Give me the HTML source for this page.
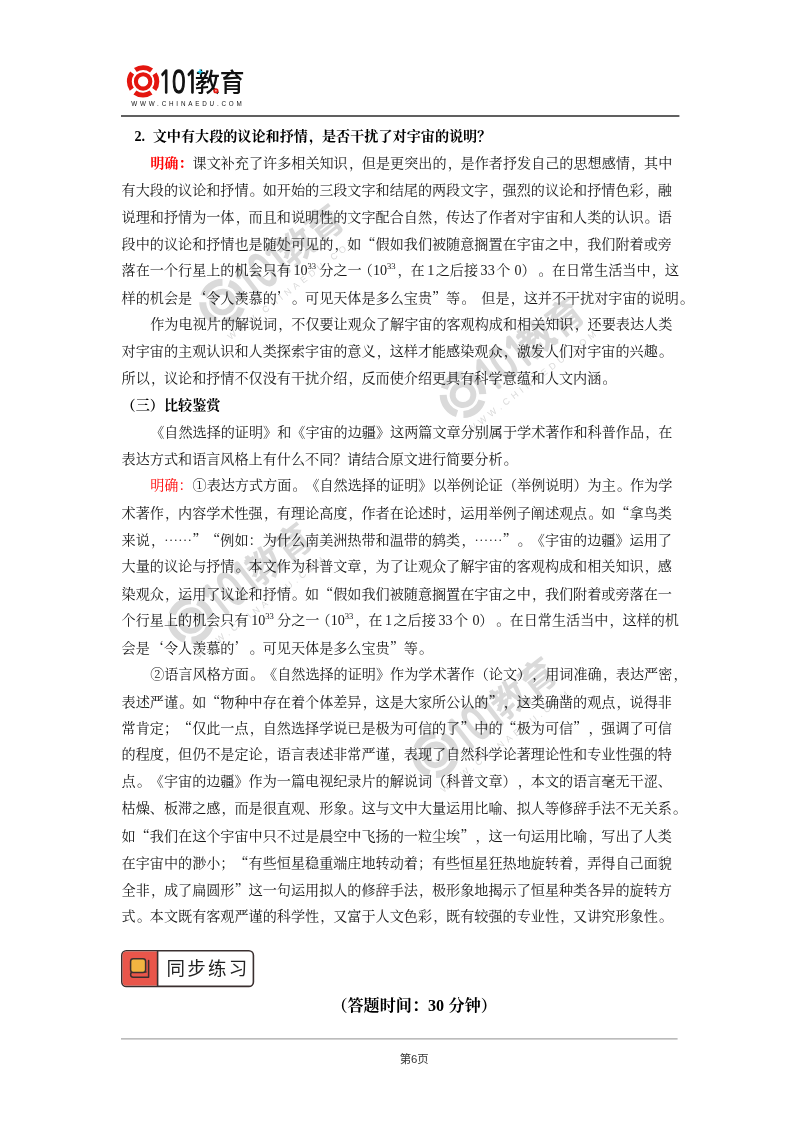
<!DOCTYPE html>
<html lang="zh-CN"><head><meta charset="utf-8"><title>第6页</title>
<style>
html,body{margin:0;padding:0;background:#fff;}
body{width:800px;height:1132px;position:relative;overflow:hidden;font-family:"Liberation Serif","Noto Serif CJK SC",serif;color:#161616;}
.l{position:absolute;white-space:nowrap;height:27px;line-height:27px;font-size:14.12px;font-weight:400;text-spacing-trim:space-all;font-kerning:none;}
.l i{font-style:normal;position:relative;left:1.2px;}
.q{font-family:"Noto Serif CJK SC",serif;}
.h{font-weight:700;color:#000;}
.num{display:inline-block;width:18.2px;}
.r{color:#f00;}
b.r{font-weight:700;}
.en{font-family:"Liberation Serif",serif;}
.sup{font-size:8.6px;position:relative;top:-6.3px;line-height:0;}
.sp{display:inline-block;width:7px;}
.wm{position:absolute;left:0;top:0;width:800px;height:1132px;}
.hr{position:absolute;background:#222;}
</style></head><body>
<div id="pg" style="position:absolute;left:0;top:0;width:800px;height:1132px;will-change:transform;">

<svg class="wm" width="800" height="1132" viewBox="0 0 800 1132">
<g transform="translate(222.5 302) rotate(-37.7) scale(1.44) translate(-16.3 -16.3)" opacity="1">
<circle cx="16.3" cy="16.3" r="13.75" fill="none" stroke="#dadada" stroke-width="4.9" stroke-dasharray="17.2 4.4" stroke-dashoffset="8.6"/>
<circle cx="16.3" cy="16.3" r="7.2" fill="none" stroke="#dadada" stroke-width="4.1"/>
<g transform="translate(31.8 27.4) scale(1 1.36)"><text x="0" y="0" font-family="NanumGothic, IPAPGothic, sans-serif" font-size="23" fill="#dadada" stroke="#dadada" stroke-width="1.7" stroke-linejoin="round" letter-spacing="-0.9">101</text></g>
<text x="68.2" y="26.5" font-family="Liberation Sans, Noto Sans CJK SC, sans-serif" font-weight="700" font-size="25.8" fill="#dadada" textLength="49.6" lengthAdjust="spacingAndGlyphs">教育</text>
<path d="M73.3 4.25 v5 M70.8 6.75 h5" stroke="#dadada" stroke-width="1.5" fill="none"/>
<circle cx="89.1" cy="25.65" r="1.75" fill="#dadada" stroke="#dadada" stroke-width="1.7"/>
<text x="4.45" y="40.65" font-family="Liberation Sans, sans-serif" font-size="6.3" font-weight="400" fill="#dadada" textLength="110.5" lengthAdjust="spacing">WWW.CHINAEDU.COM</text>
</g>
<g transform="translate(463 394.7) rotate(-37.7) scale(1.44) translate(-16.3 -16.3)" opacity="1">
<circle cx="16.3" cy="16.3" r="13.75" fill="none" stroke="#dadada" stroke-width="4.9" stroke-dasharray="17.2 4.4" stroke-dashoffset="8.6"/>
<circle cx="16.3" cy="16.3" r="7.2" fill="none" stroke="#dadada" stroke-width="4.1"/>
<g transform="translate(31.8 27.4) scale(1 1.36)"><text x="0" y="0" font-family="NanumGothic, IPAPGothic, sans-serif" font-size="23" fill="#dadada" stroke="#dadada" stroke-width="1.7" stroke-linejoin="round" letter-spacing="-0.9">101</text></g>
<text x="68.2" y="26.5" font-family="Liberation Sans, Noto Sans CJK SC, sans-serif" font-weight="700" font-size="25.8" fill="#dadada" textLength="49.6" lengthAdjust="spacingAndGlyphs">教育</text>
<path d="M73.3 4.25 v5 M70.8 6.75 h5" stroke="#dadada" stroke-width="1.5" fill="none"/>
<circle cx="89.1" cy="25.65" r="1.75" fill="#dadada" stroke="#dadada" stroke-width="1.7"/>
<text x="4.45" y="40.65" font-family="Liberation Sans, sans-serif" font-size="6.3" font-weight="400" fill="#dadada" textLength="110.5" lengthAdjust="spacing">WWW.CHINAEDU.COM</text>
</g>
<g transform="translate(191 620.5) rotate(-37.7) scale(1.44) translate(-16.3 -16.3)" opacity="1">
<circle cx="16.3" cy="16.3" r="13.75" fill="none" stroke="#dadada" stroke-width="4.9" stroke-dasharray="17.2 4.4" stroke-dashoffset="8.6"/>
<circle cx="16.3" cy="16.3" r="7.2" fill="none" stroke="#dadada" stroke-width="4.1"/>
<g transform="translate(31.8 27.4) scale(1 1.36)"><text x="0" y="0" font-family="NanumGothic, IPAPGothic, sans-serif" font-size="23" fill="#dadada" stroke="#dadada" stroke-width="1.7" stroke-linejoin="round" letter-spacing="-0.9">101</text></g>
<text x="68.2" y="26.5" font-family="Liberation Sans, Noto Sans CJK SC, sans-serif" font-weight="700" font-size="25.8" fill="#dadada" textLength="49.6" lengthAdjust="spacingAndGlyphs">教育</text>
<path d="M73.3 4.25 v5 M70.8 6.75 h5" stroke="#dadada" stroke-width="1.5" fill="none"/>
<circle cx="89.1" cy="25.65" r="1.75" fill="#dadada" stroke="#dadada" stroke-width="1.7"/>
<text x="4.45" y="40.65" font-family="Liberation Sans, sans-serif" font-size="6.3" font-weight="400" fill="#dadada" textLength="110.5" lengthAdjust="spacing">WWW.CHINAEDU.COM</text>
</g>
<g transform="translate(435.5 754.8) rotate(-37.7) scale(1.44) translate(-16.3 -16.3)" opacity="1">
<circle cx="16.3" cy="16.3" r="13.75" fill="none" stroke="#dadada" stroke-width="4.9" stroke-dasharray="17.2 4.4" stroke-dashoffset="8.6"/>
<circle cx="16.3" cy="16.3" r="7.2" fill="none" stroke="#dadada" stroke-width="4.1"/>
<g transform="translate(31.8 27.4) scale(1 1.36)"><text x="0" y="0" font-family="NanumGothic, IPAPGothic, sans-serif" font-size="23" fill="#dadada" stroke="#dadada" stroke-width="1.7" stroke-linejoin="round" letter-spacing="-0.9">101</text></g>
<text x="68.2" y="26.5" font-family="Liberation Sans, Noto Sans CJK SC, sans-serif" font-weight="700" font-size="25.8" fill="#dadada" textLength="49.6" lengthAdjust="spacingAndGlyphs">教育</text>
<path d="M73.3 4.25 v5 M70.8 6.75 h5" stroke="#dadada" stroke-width="1.5" fill="none"/>
<circle cx="89.1" cy="25.65" r="1.75" fill="#dadada" stroke="#dadada" stroke-width="1.7"/>
<text x="4.45" y="40.65" font-family="Liberation Sans, sans-serif" font-size="6.3" font-weight="400" fill="#dadada" textLength="110.5" lengthAdjust="spacing">WWW.CHINAEDU.COM</text>
</g>
<g transform="translate(126.8 65.1)">
<circle cx="16.3" cy="16.3" r="13.75" fill="none" stroke="#e4160f" stroke-width="4.9" stroke-dasharray="17.2 4.4" stroke-dashoffset="8.6"/>
<circle cx="16.3" cy="16.3" r="7.2" fill="none" stroke="#e4160f" stroke-width="4.1"/>
<g transform="translate(31.8 27.4) scale(1 1.36)"><text x="0" y="0" font-family="NanumGothic, IPAPGothic, sans-serif" font-size="23" fill="#111" stroke="#111" stroke-width="1.0" stroke-linejoin="round" letter-spacing="-0.9">101</text></g>
<text x="68.2" y="26.5" font-family="Liberation Sans, Noto Sans CJK SC, sans-serif" font-weight="500" font-size="25.8" fill="#111" textLength="49.6" lengthAdjust="spacingAndGlyphs">教育</text>
<path d="M73.3 4.25 v5 M70.8 6.75 h5" stroke="#2ad0ee" stroke-width="1.5" fill="none"/>
<circle cx="89.1" cy="25.65" r="1.75" fill="#f7b5b0" stroke="#e4160f" stroke-width="1.7"/>
<text x="4.45" y="40.65" font-family="Liberation Sans, sans-serif" font-size="6.3" font-weight="400" fill="#111" textLength="110.5" lengthAdjust="spacing">WWW.CHINAEDU.COM</text>
</g>
</svg>
<svg style="position:absolute;left:0;top:110px" width="800" height="12" viewBox="0 110 800 12"><line x1="121" y1="116" x2="679.4" y2="116" stroke="#2b2b2b" stroke-width="1.7"/></svg>
<div class="l h" style="left:134.50px;top:123.41px;"><span class="num">2.</span>文中有大段的议论和抒情<i>，</i>是否干扰了对宇宙的说明？</div>
<div class="l " style="left:150.20px;top:149.80px;"><b class="r">明确：</b>课文补充了许多相关知识<i>，</i>但是更突出的<i>，</i>是作者抒发自己的思想感情<i>，</i>其中</div>
<div class="l " style="left:121.60px;top:176.69px;">有大段的议论和抒情<i>。</i>如开始的三段文字和结尾的两段文字<i>，</i>强烈的议论和抒情色彩<i>，</i>融</div>
<div class="l " style="left:121.60px;top:203.58px;">说理和抒情为一体<i>，</i>而且和说明性的文字配合自然<i>，</i>传达了作者对宇宙和人类的认识<i>。</i>语</div>
<div class="l " style="left:121.60px;top:230.47px;">段中的议论和抒情也是随处可见的<i>，</i>如<span class="q">“</span>假如我们被随意搁置在宇宙之中<i>，</i>我们附着或旁</div>
<div class="l" style="left:121.60px;top:257.36px;">落在一个行星上的机会只有</div>
<div class="l" style="left:293.40px;top:257.36px;"><span class="en">10<span class="sup">33</span></span></div>
<div class="l" style="left:319.30px;top:257.36px;">分之一</div>
<div class="l" style="left:358.66px;top:257.36px;">（</div>
<div class="l" style="left:372.90px;top:257.36px;"><span class="en">10<span class="sup">33</span></span></div>
<div class="l" style="left:396.30px;top:257.36px;"><i>，</i>在</div>
<div class="l" style="left:427.20px;top:257.36px;"><span class="en">1</span></div>
<div class="l" style="left:435.70px;top:257.36px;">之后接</div>
<div class="l" style="left:480.60px;top:257.36px;"><span class="en">33</span></div>
<div class="l" style="left:496.30px;top:257.36px;">个</div>
<div class="l" style="left:514.60px;top:257.36px;"><span class="en">0</span></div>
<div class="l" style="left:521.50px;top:257.36px;">）</div>
<div class="l" style="left:537.20px;top:257.36px;"><i>。</i></div>
<div class="l" style="left:551.80px;top:257.36px;">在日常生活当中<i>，</i>这</div>
<div class="l " style="left:121.60px;top:284.25px;">样的机会是<span class="q">‘</span>令人羡慕的<span class="q">’</span><i>。</i>可见天体是多么宝贵<span class="q">”</span>等<i>。</i><span class="sp"></span>但是<i>，</i>这并不干扰对宇宙的说明<i>。</i></div>
<div class="l " style="left:150.20px;top:311.14px;">作为电视片的解说词<i>，</i>不仅要让观众了解宇宙的客观构成和相关知识<i>，</i>还要表达人类</div>
<div class="l " style="left:121.60px;top:338.03px;">对宇宙的主观认识和人类探索宇宙的意义<i>，</i>这样才能感染观众<i>，</i>激发人们对宇宙的兴趣<i>。</i></div>
<div class="l " style="left:121.60px;top:364.92px;">所以<i>，</i>议论和抒情不仅没有干扰介绍<i>，</i>反而使介绍更具有科学意蕴和人文内涵<i>。</i></div>
<div class="l h" style="left:121.60px;top:392.31px;">（三）比较鉴赏</div>
<div class="l " style="left:150.20px;top:418.70px;">《自然选择的证明》和《宇宙的边疆》这两篇文章分别属于学术著作和科普作品<i>，</i>在</div>
<div class="l " style="left:121.60px;top:445.59px;">表达方式和语言风格上有什么不同？请结合原文进行简要分析<i>。</i></div>
<div class="l " style="left:150.20px;top:472.48px;"><span class="r">明确：</span>①表达方式方面<i>。</i>《自然选择的证明》以举例论证（举例说明）为主<i>。</i>作为学</div>
<div class="l " style="left:121.60px;top:499.37px;">术著作<i>，</i>内容学术性强<i>，</i>有理论高度<i>，</i>作者在论述时<i>，</i>运用举例子阐述观点<i>。</i>如<span class="q">“</span>拿鸟类</div>
<div class="l " style="left:121.60px;top:526.26px;">来说<i>，</i><span class="q">……”“</span>例如：为什么南美洲热带和温带的鸫类<i>，</i><span class="q">……”</span><i>。</i>《宇宙的边疆》运用了</div>
<div class="l " style="left:121.60px;top:553.15px;">大量的议论与抒情<i>。</i>本文作为科普文章<i>，</i>为了让观众了解宇宙的客观构成和相关知识<i>，</i>感</div>
<div class="l " style="left:121.60px;top:580.04px;">染观众<i>，</i>运用了议论和抒情<i>。</i>如<span class="q">“</span>假如我们被随意搁置在宇宙之中<i>，</i>我们附着或旁落在一</div>
<div class="l" style="left:121.60px;top:606.93px;">个行星上的机会只有</div>
<div class="l" style="left:251.20px;top:606.93px;"><span class="en">10<span class="sup">33</span></span></div>
<div class="l" style="left:277.10px;top:606.93px;">分之一</div>
<div class="l" style="left:316.46px;top:606.93px;">（</div>
<div class="l" style="left:330.70px;top:606.93px;"><span class="en">10<span class="sup">33</span></span></div>
<div class="l" style="left:354.10px;top:606.93px;"><i>，</i>在</div>
<div class="l" style="left:385.00px;top:606.93px;"><span class="en">1</span></div>
<div class="l" style="left:393.50px;top:606.93px;">之后接</div>
<div class="l" style="left:438.40px;top:606.93px;"><span class="en">33</span></div>
<div class="l" style="left:454.10px;top:606.93px;">个</div>
<div class="l" style="left:472.40px;top:606.93px;"><span class="en">0</span></div>
<div class="l" style="left:479.30px;top:606.93px;">）</div>
<div class="l" style="left:495.00px;top:606.93px;"><i>。</i></div>
<div class="l" style="left:509.60px;top:606.93px;">在日常生活当中<i>，</i>这样的机</div>
<div class="l " style="left:121.60px;top:633.82px;">会是<span class="q">‘</span>令人羡慕的<span class="q">’</span><i>。</i>可见天体是多么宝贵<span class="q">”</span>等<i>。</i></div>
<div class="l " style="left:150.20px;top:660.71px;">②语言风格方面<i>。</i>《自然选择的证明》作为学术著作（论文）<i>，</i>用词准确<i>，</i>表达严密<i>，</i></div>
<div class="l " style="left:121.60px;top:687.60px;">表述严谨<i>。</i>如<span class="q">“</span>物种中存在着个体差异<i>，</i>这是大家所公认的<span class="q">”</span><i>，</i>这类确凿的观点<i>，</i>说得非</div>
<div class="l " style="left:121.60px;top:714.49px;">常肯定；<span class="q">“</span>仅此一点<i>，</i>自然选择学说已是极为可信的了<span class="q">”</span>中的<span class="q">“</span>极为可信<span class="q">”</span><i>，</i>强调了可信</div>
<div class="l " style="left:121.60px;top:741.38px;">的程度<i>，</i>但仍不是定论<i>，</i>语言表述非常严谨<i>，</i>表现了自然科学论著理论性和专业性强的特</div>
<div class="l " style="left:121.60px;top:768.27px;">点<i>。</i>《宇宙的边疆》作为一篇电视纪录片的解说词（科普文章）<i>，</i>本文的语言毫无干涩、</div>
<div class="l " style="left:121.60px;top:795.16px;">枯燥、板滞之感<i>，</i>而是很直观、形象<i>。</i>这与文中大量运用比喻、拟人等修辞手法不无关系<i>。</i></div>
<div class="l " style="left:121.60px;top:822.05px;">如<span class="q">“</span>我们在这个宇宙中只不过是晨空中飞扬的一粒尘埃<span class="q">”</span><i>，</i>这一句运用比喻<i>，</i>写出了人类</div>
<div class="l " style="left:121.60px;top:848.94px;">在宇宙中的渺小；<span class="q">“</span>有些恒星稳重端庄地转动着；有些恒星狂热地旋转着<i>，</i>弄得自己面貌</div>
<div class="l " style="left:121.60px;top:875.83px;">全非<i>，</i>成了扁圆形<span class="q">”</span>这一句运用拟人的修辞手法<i>，</i>极形象地揭示了恒星种类各异的旋转方</div>
<div class="l " style="left:121.60px;top:902.72px;">式<i>。</i>本文既有客观严谨的科学性<i>，</i>又富于人文色彩<i>，</i>既有较强的专业性<i>，</i>又讲究形象性<i>。</i></div>
<svg style="position:absolute;left:115px;top:944px" width="150" height="50" viewBox="115 944 150 50">
<rect x="121.8" y="950.8" width="131.6" height="35.6" rx="4.5" fill="#fff" stroke="#3a2f2f" stroke-width="1.6"/>
<path d="M126.3 951.6 H157.6 V985.6 H126.3 a3.7 3.7 0 0 1 -3.7 -3.7 V955.3 a3.7 3.7 0 0 1 3.7 -3.7 Z" fill="#e9564b"/>
<path d="M157.6 951 V986.2" stroke="#3a2f2f" stroke-width="1.6" fill="none"/>
<path d="M148.6 960.5 V977.2 H133.2 a2.6 2.6 0 0 1 0 -5.2 H146" fill="none" stroke="#3a2f2f" stroke-width="1.5" stroke-linejoin="round" stroke-linecap="round"/>
<rect x="130.6" y="958.8" width="15" height="13.6" rx="2.6" fill="#f2b441" stroke="#3a2f2f" stroke-width="1.5"/>
</svg>
<div style="position:absolute;left:166.4px;top:955px;height:27px;line-height:27px;font-family:'Liberation Sans','Noto Sans CJK SC',sans-serif;font-size:18.5px;letter-spacing:2.3px;color:#222;white-space:nowrap;">同步练习</div>
<div class="l h" style="left:331.4px;top:992.1px;font-size:16.13px;">（答题时间：<span class="en">30</span><span style="display:inline-block;width:4.4px"></span>分钟）</div>
<svg style="position:absolute;left:0;top:1030px" width="800" height="20" viewBox="0 1030 800 20"><line x1="121" y1="1038.9" x2="677.6" y2="1038.9" stroke="#a6a6a6" stroke-width="1.2"/></svg>
<div style="position:absolute;left:314.2px;width:200px;text-align:center;top:1050.6px;height:16px;line-height:16px;font-family:'Liberation Sans','Noto Sans CJK SC',sans-serif;font-size:11.4px;color:#333;">第6页</div>
</div></body></html>
